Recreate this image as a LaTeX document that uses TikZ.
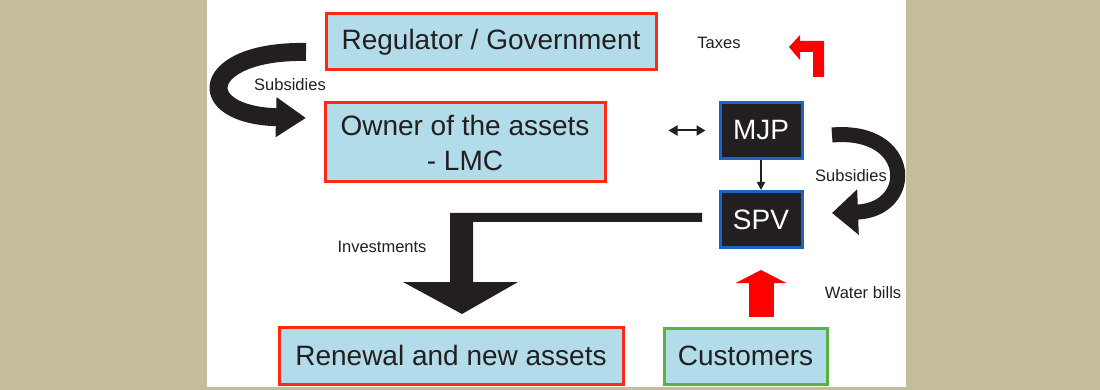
\documentclass[tikz,border=0pt]{standalone}
\usepackage{fontspec}
\setmainfont{Liberation Sans}
\usetikzlibrary{arrows.meta}
\definecolor{khaki}{HTML}{C4BD9A}
\definecolor{boxblue}{HTML}{B2DCE9}
\definecolor{boxred}{HTML}{FF2A14}
\definecolor{mjpblue}{HTML}{1E63C4}
\definecolor{custgreen}{HTML}{5DAF3E}
\definecolor{ink}{HTML}{231F20}

\begin{document}
\begin{tikzpicture}[x=1pt,y=-1pt,
    bluebox/.style={fill=boxblue, line width=3pt, text=ink, inner sep=0pt, align=center, font=\fontsize{28}{35}\selectfont},
    darkbox/.style={draw=mjpblue, fill=ink, line width=3pt, text=white, inner sep=0pt, minimum width=82, minimum height=56, font=\fontsize{28}{32}\selectfont},
    lbl/.style={text=ink, font=\fontsize{16.5}{20}\selectfont},
    link/.style={draw=ink, line width=2pt}]
    \fill[khaki] (0,0) rectangle (1100,390);
    \fill[white] (207,0) rectangle (906,387);

    \node[bluebox, draw=boxred, minimum width=330, minimum height=56] (reg) at (491,42) {Regulator / Government};
    \node[bluebox, draw=boxred, minimum width=280, minimum height=79] (owner) at (465,142.5) {Owner of the assets\\- LMC};
    \node[darkbox] (mjp) at (761,130.5) {MJP};
    \node[darkbox] (spv) at (761,219.5) {SPV};
    \node[bluebox, draw=boxred, minimum width=344, minimum height=57] (renew) at (451,355.5) {Renewal and new assets};
    \node[bluebox, draw=custgreen, minimum width=163, minimum height=56] (cust) at (745.5,356) {Customers};

    \node[lbl] (sub1) at (290,85) {Subsidies};
    \node[lbl] (sub2) at (851,176) {Subsidies};
    \node[lbl] (tax) at (719,43) {Taxes};
    \node[lbl] (inv) at (382,247) {Investments};
    \node[lbl] (bill) at (863,293) {Water bills};

    \coordinate (s1) at (306,52);
    \coordinate (e1) at (306,118);
    \coordinate (s2) at (832,135);
    \coordinate (e2) at (832,213);
    \draw[ink, line width=18pt, -{Triangle[width=38,length=30]}] (s1) .. controls (200,50) and (190,115) .. (e1);
    \draw[ink, line width=15pt, -{Triangle[width=44,length=26]}] (s2) .. controls (914,128) and (916,210) .. (e2);

    \draw[link, {Triangle[width=10,length=9]}-{Triangle[width=10,length=9]}, shorten <=62pt, shorten >=13pt] (owner.east |- mjp.west) -- (mjp.west);
    \draw[link, line width=1.6pt, -{Triangle[width=8,length=8]}] (mjp) -- (spv);
    \draw[red, line width=25pt, -{Triangle[width=50,length=13]}, shorten <=10pt, shorten >=21pt] (spv.south |- cust.north) -- (spv.south);

    \fill[ink] (702,213) -- (450,213) -- (450,282) -- (403,282) -- (462,314) -- (518,282) -- (473,282) -- (473,222) -- (702,222) -- cycle;
    \fill[red] (789,47) -- (800,35) -- (800,41) -- (824,41) -- (824,77) -- (813,77) -- (813,52) -- (800,52) -- (800,60) -- cycle;
\end{tikzpicture}
\end{document}
